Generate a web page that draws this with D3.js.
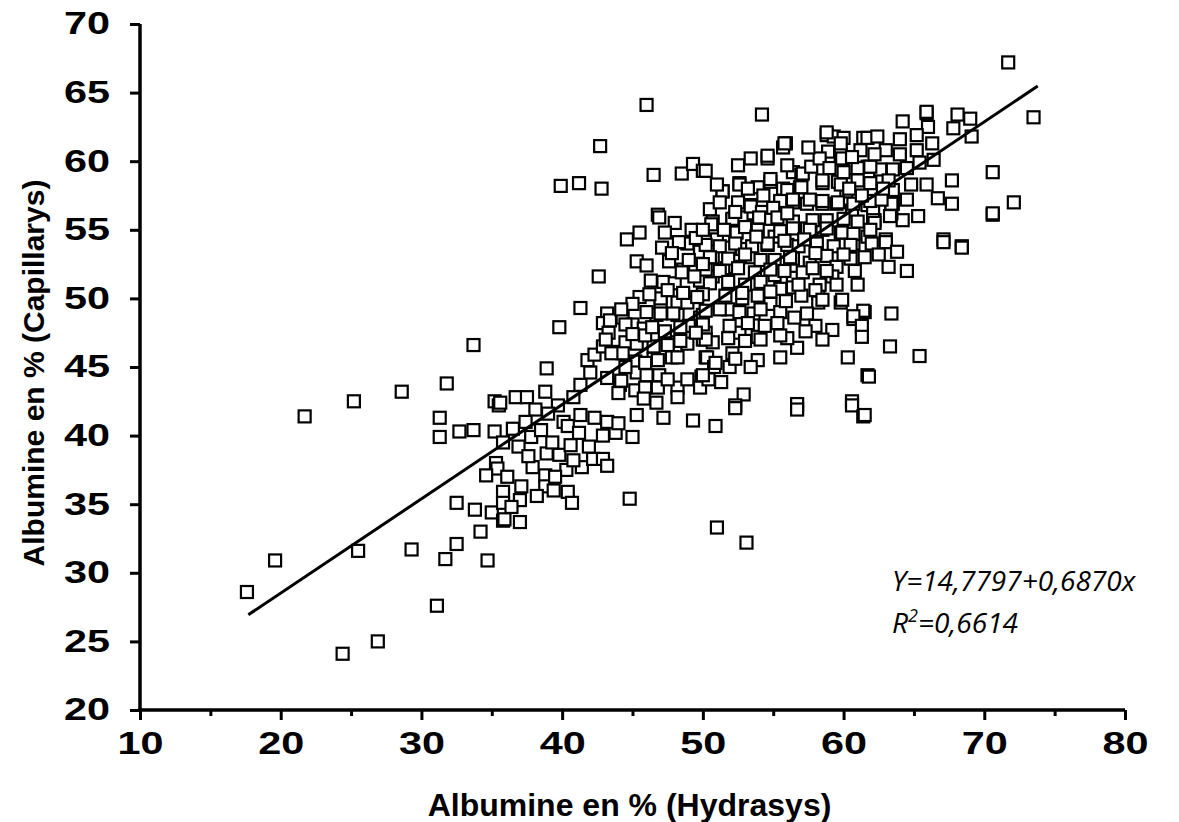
<!DOCTYPE html>
<html>
<head>
<meta charset="utf-8">
<script src="https://cdn.jsdelivr.net/npm/d3@7"></script>
<style>
  body { margin: 0; background: #fff; }
  svg { display: block; }
</style>
</head>
<body>
<div id="scatter"></div>
<script>
// set the dimensions and margins of the graph
const margin = {top: 24, right: 54, bottom: 112, left: 140},
width = 1179 - margin.left - margin.right,
height = 822 - margin.top - margin.bottom;

// axes
const xDomain = [10, 80];
const yDomain = [20, 70];
const xTicks = [10, 20, 30, 40, 50, 60, 70, 80];
const xMinorTicks = [15, 25, 35, 45, 55, 65, 75];
const yTicks = [20, 25, 30, 35, 40, 45, 50, 55, 60, 65, 70];

// droite de regression
const fitX = [17.7, 73.8];
const fitIntercept = 14.7797;
const fitSlope = 0.6870;

// [Hydrasys, Capillarys] en %
const mesures = [
  [17.6,28.6],[19.6,30.9],[21.7,41.4],[25.2,42.5],[25.5,31.6],[24.4,24.1],[26.9,25.0],[28.6,43.2],[29.3,31.7],[31.1,27.6],
  [31.3,41.3],[31.3,39.9],[31.8,43.8],[31.7,31.0],[32.5,32.1],[32.5,35.1],[32.7,40.3],[33.7,40.4],[33.7,46.6],[33.8,34.6],
  [34.2,33.0],[34.7,30.9],[35.0,34.4],[35.2,40.3],[35.2,42.5],[35.5,42.2],[35.8,39.5],[35.3,38.0],[35.4,37.6],[34.6,37.1],
  [35.8,35.9],[35.8,35.1],[35.8,33.8],[35.6,42.4],
  [41.3,49.3],[39.8,47.9],[38.9,44.9],[36.7,42.8],[37.5,42.8],[38.8,43.2],[38.1,41.9],[36.9,39.2],[37.8,39.9],[38.9,38.7],
  [39.8,38.6],[40.6,39.3],[37.9,37.7],[38.8,37.1],[38.8,36.3],[37.1,36.3],[36.1,37.0],[37.0,35.3],[37.0,33.7],[35.9,33.9],
  [40.3,37.5],[41.4,37.7],[42.2,38.3],[42.9,38.3],[43.2,37.8],[40.4,35.9],[40.7,35.1],[44.8,35.4],[40.1,41.0],[40.4,40.7],
  [41.3,41.5],[42.3,41.3],[42.9,40.0],[43.8,40.2],[45.0,39.9],[43.2,41.0],[44.0,40.9],[45.3,41.5],[47.2,41.3],[49.3,41.1],
  [39.7,42.2],[40.8,42.8],[41.3,43.7],[42.0,44.6],[41.8,45.5],[42.3,45.9],[43.2,48.9],[44.3,48.6],[45.0,48.1],[45.8,47.8],
  [42.9,48.2],[43.3,47.5],[44.5,46.8],[42.9,46.5],[43.6,46.1],[44.3,46.0],[45.2,45.4],[46.5,45.6],[47.8,45.7],[43.2,44.2],
  [44.1,43.7],[45.3,44.6],[46.0,44.4],[46.9,44.4],[44.0,43.1],[45.2,43.3],[45.9,43.5],[46.8,43.5],[48.2,43.5],[48.9,44.1],
  [49.9,44.3],[45.8,42.7],[46.7,42.4],[48.2,42.8],[49.8,43.5],[45.3,46.7],[46.5,46.5],[47.5,46.8],[48.9,46.7],[50.2,47.5],
  [46.7,48.8],[48.2,48.8],[49.8,48.6],[47.0,49.7],[48.2,49.7],[50.0,47.0],[50.2,45.7],
  [38.5,40.4],[39.3,39.5],[39.0,41.6],[37.6,38.5],[36.5,40.5],[39.5,37.0],[38.2,35.6],[36.4,34.8],[39.4,36.0],[40.8,38.2],
  [41.9,39.2],[41.2,40.2],[37.4,41.0],
  [46.8,56.1],[44.6,54.3],[45.5,54.8],[47.1,53.7],[45.3,52.7],[46.0,52.4],[42.6,51.6],[45.5,50.1],[47.2,51.2],[48.0,51.1],
  [48.6,52.1],[47.6,52.7],[47.0,50.0],[47.0,48.9],[47.9,48.9],[48.9,49.7],[49.8,51.3],[50.7,51.6],[51.7,52.2],[52.3,52.3],
  [43.4,48.4],[44.5,48.1],[43.1,47.0],[45.0,47.4],[45.9,47.3],[43.5,46.0],[49.8,53.4],[50.7,53.0],[51.0,54.3],[51.9,53.7],
  [52.8,53.6],[53.5,53.0],[48.9,54.0],[50.7,55.6],[52.1,55.7],[52.8,55.9],[53.6,56.2],[52.5,57.0],[53.4,56.8],[51.4,57.8],
  [52.6,58.4],[51.8,49.2],[52.8,50.0],[53.6,48.9],[52.6,47.5],[53.9,47.2],[52.1,46.0],[50.3,45.7],[50.7,46.8],[50.0,48.8],
  [48.4,46.9],[47.5,46.6],[48.2,45.7],[46.8,45.5],[45.9,45.3],[44.5,45.0],[44.2,44.0],[47.5,44.1],[50.4,44.1],[51.3,43.9],
  [46.0,64.1],[42.7,61.1],[39.9,58.2],[41.2,58.4],[42.8,58.0],[46.5,59.0],[48.5,59.1],[49.3,59.8],[50.0,59.3],[46.9,55.9],
  [54.2,63.4],[55.9,61.3],[55.7,61.0],[58.8,61.9],[59.3,61.8],[60.0,61.7],[61.4,61.7],[53.4,60.2],[54.6,60.2],[52.5,59.7],
  [50.2,59.3],[56.4,59.2],[57.0,59.0],[58.9,60.7],[59.8,60.5],[61.2,60.8],[60.8,59.5],[61.7,59.6],
  [51.4,57.8],[52.6,58.3],[53.9,58.1],[54.8,58.5],[55.7,58.0],[56.9,58.1],[58.5,58.4],[59.6,58.5],[60.2,57.8],
  [50.6,55.4],[52.1,55.8],[53.4,56.7],[54.2,56.3],[55.5,57.0],[56.4,57.0],[57.4,56.9],[58.5,56.9],[59.5,56.9],[60.6,56.4],
  [61.7,56.8],[52.4,54.8],[53.9,55.0],[55.1,54.5],[56.4,55.2],[57.4,55.1],[58.5,55.0],[59.8,54.8],[60.7,54.0],[61.7,54.5],
  [64.2,62.9],[65.9,63.5],[66.0,62.5],[68.1,63.4],[69.0,63.1],[69.1,61.8],[67.8,62.4],[70.6,59.2],[70.6,56.1],[67.7,58.6],
  [67.7,56.9],[66.4,60.1],[65.9,58.3],[66.7,57.3],[67.1,54.3],[68.4,53.8],[63.0,54.3],[63.2,52.3],[64.5,52.0],[61.0,51.0],
  [59.8,49.7],[61.5,49.0],[63.4,48.9],[58.2,50.5],[58.2,49.7],[64.2,55.7],[63.4,56.2],[62.2,55.7],
  [64.5,57.2],[63.5,57.9],[63.5,56.9],[62.1,56.4],[62.1,55.7],
  [64.0,61.6],[65.2,60.8],[65.4,59.9],[64.5,59.5],[63.5,59.4],[62.6,59.4],[61.9,59.6],[61.0,59.5],[60.0,59.2],
  [58.8,62.1],[59.8,61.3],[61.7,61.7],[62.4,61.8],[59.9,60.2],
  [55.8,61.3],[54.6,60.4],[57.1,59.1],
  [54.8,58.7],[56.0,57.9],[57.0,58.1],[58.5,58.6],[59.8,58.3],[61.0,58.6],[61.9,58.4],[63.2,58.6],
  [55.5,57.1],[56.4,57.2],[57.6,57.2],[58.5,57.1],[59.6,57.0],[60.7,56.9],[61.9,57.1],[63.4,56.9],
  [54.8,55.8],[56.4,55.6],[57.8,55.7],[58.8,55.7],[60.0,55.8],[61.0,55.6],[62.2,55.5],[63.3,56.0],
  [55.5,54.9],[56.4,55.1],[57.6,55.0],[58.8,55.1],[59.9,54.8],[60.7,54.7],[61.9,55.0],
  [54.6,53.9],[56.0,53.9],[56.8,53.8],[58.1,54.0],[59.3,53.8],[60.5,53.9],
  [55.1,52.8],[56.4,52.9],[57.6,52.6],[58.8,53.1],[59.5,52.3],[60.5,52.9],
  [55.1,51.7],[56.4,51.5],[57.1,51.9],[58.3,51.0],[59.2,51.6],
  [55.5,50.7],[56.4,50.8],[58.0,50.6],[59.9,49.9],[58.5,49.9],
  [54.8,49.6],[55.5,49.0],[60.7,48.5],[61.4,49.1],
  [60.7,48.7],[61.3,48.0],[61.3,47.2],[59.2,47.7],[58.5,47.0],[60.3,45.7],[61.7,44.4],[56.7,46.4],[56.0,47.1],[55.5,47.3],
  [55.5,45.7],[53.9,45.5],[51.9,45.0],[50.8,45.0],[50.0,44.4],[52.9,43.0],[52.3,42.2],[56.7,42.3],[60.6,42.5],
  [52.3,42.0],[50.9,40.7],[56.7,41.9],[60.6,42.2],[61.4,41.4],[51.0,33.3],[53.1,32.2],
  [63.0,54.1],[67.1,54.1],[68.4,53.7],[63.3,46.5],[65.4,45.8],[61.8,44.3],[61.5,41.5],
  [71.7,67.2],[73.5,63.2],[72.1,57.0],[70.6,56.2],[65.9,63.6],
  [50.2,53.9],[51.2,53.8],[52.3,54.0],[53.5,53.8],[54.6,54.0],
  [50.5,53.0],[51.8,52.9],[53.0,53.2],[54.1,52.8],[56.2,53.0],
  [50.2,52.1],[51.2,52.0],[52.5,52.2],[53.7,51.9],[54.8,52.1],[55.8,52.0],
  [50.5,51.1],[51.8,51.2],[53.0,51.0],[54.1,51.2],
  [50.0,50.3],[51.6,50.2],[52.8,50.4],[53.9,50.2],[54.8,50.5],
  [50.2,49.1],[51.2,49.2],[52.6,49.0],[54.1,49.2],
  [50.0,48.1],[51.9,48.0],[53.2,48.2],[54.4,48.0],[55.3,48.2],
  [50.2,47.0],[51.8,47.1],[53.0,46.9],[54.1,47.0],
  [50.9,45.3],[52.3,45.6],[53.4,45.0],
  [48.0,55.5],[49.2,55.0],[47.3,54.8],[48.3,54.1],[49.5,54.4],[47.8,53.3],[49.0,52.8],[50.0,52.5],[48.5,51.9],[49.4,51.6],
  [46.3,51.3],[47.5,50.6],[48.6,50.4],[49.6,50.1],[46.2,50.3],[46.0,49.0],[45.0,49.6],[44.2,49.2],[49.0,48.0],[46.4,47.9],
  [47.3,47.6],[48.4,47.9],[49.5,47.5],
  [50.5,56.5],[51.2,57.0],[50.0,55.0],[51.5,55.0],[52.3,56.3],[53.0,55.2],[53.8,54.5],[51.0,58.3],[53.2,58.0],[54.3,57.5],
  [55.0,56.6],[55.3,55.9],[56.0,56.2],[54.0,55.9],
  [57.0,50.2],[57.8,52.2],[56.8,51.0],[55.9,49.8],[56.5,48.6],[57.4,48.9],[58.0,48.0],[57.3,47.6],[58.8,52.0],[59.5,51.0],
  [60.0,53.2],[60.8,52.0],[58.0,53.3],[55.8,54.2],[57.2,54.3],
  [61.5,53.0],[62.0,54.0],[62.5,53.2],[63.8,53.4],[62.7,57.2],[64.8,58.3],[65.3,56.0],[62.8,58.0],[61.3,57.5],[60.4,58.0],
  [64.0,60.5],[63.0,60.8],[62.2,60.5],[65.2,61.9],[66.3,61.3],
  [56.0,59.7],[57.7,59.6],[58.3,60.2],[57.5,61.0],[59.0,59.5],[60.6,60.3]
];

// append the svg object to the body of the page
const svg = d3.select("#scatter")
.append("svg")
.attr("width", width + margin.left + margin.right)
.attr("height", height + margin.top + margin.bottom)
.append("g")
.attr("transform", `translate(${margin.left},${margin.top})`);

const x = d3.scaleLinear().domain(xDomain).range([0, width]);
const y = d3.scaleLinear().domain(yDomain).range([height, 0]);

const tickFont = "Liberation Sans, Arial, sans-serif";

// Add X axis
const xAxis = svg.append("g")
.attr("transform", `translate(0, ${height})`)
.call(d3.axisBottom(x).tickValues(xTicks).tickSize(10).tickPadding(12).tickSizeOuter(0));
svg.append("g")
.attr("transform", `translate(0, ${height})`)
.call(d3.axisBottom(x).tickValues(xMinorTicks).tickSize(6).tickFormat("").tickSizeOuter(0))
.select(".domain").remove();

// Add Y axis
const yAxis = svg.append("g")
.call(d3.axisLeft(y).tickValues(yTicks).tickSize(10).tickPadding(20).tickSizeOuter(0));

svg.selectAll(".domain").attr("stroke-width", 3.5).attr("stroke", "#000");
svg.selectAll(".tick line").attr("stroke-width", 3).attr("stroke", "#000");
svg.selectAll(".tick text")
.attr("fill", "#000")
.attr("textLength", 46)
.attr("lengthAdjust", "spacingAndGlyphs")
.style("font-family", tickFont)
.style("font-weight", "bold")
.style("font-size", "31px");
xAxis.select(".domain").attr("d", `M-1.75,0H${width}`);
yAxis.select(".domain").attr("d", `M0,${height + 1.75}V0`);

// Show the squares
const s = 12;
svg.append("g")
.selectAll("rect")
.data(mesures)
.join("rect")
.attr("x", d => x(d[0]) - s / 2)
.attr("y", d => y(d[1]) - s / 2)
.attr("width", s)
.attr("height", s)
.attr("fill", "#fff")
.attr("stroke", "#000")
.attr("stroke-width", 2.2);

// regression line
svg.append("path")
.datum(fitX)
.attr("fill", "none")
.attr("stroke", "#000")
.attr("stroke-width", 3)
.attr("d", d3.line().x(d => x(d)).y(d => y(fitIntercept + fitSlope * d)));

// axis titles
svg.append("text")
.attr("x", width / 2 - 3)
.attr("y", height + 106)
.attr("text-anchor", "middle")
.style("font-family", tickFont)
.style("font-weight", "bold")
.style("font-size", "32px")
.text("Albumine en % (Hydrasys)");

svg.append("text")
.attr("transform", `translate(${-96}, ${height / 2 + 6}) rotate(-90)`)
.attr("text-anchor", "middle")
.style("font-family", tickFont)
.style("font-weight", "bold")
.style("font-size", "30px")
.text("Albumine en % (Capillarys)");

// equation
const eq = svg.append("g")
.style("font-family", "Open Sans, sans-serif")
.style("font-style", "italic")
.style("font-size", "28px");
eq.append("text").attr("x", 752).attr("y", 567).text("Y=14,7797+0,6870x");
const r2 = eq.append("text").attr("x", 752).attr("y", 609);
r2.append("tspan").text("R");
r2.append("tspan").attr("dy", -11).style("font-size", "18px").text("2");
r2.append("tspan").attr("dy", 11).text("=0,6614");
</script>
</body>
</html>
